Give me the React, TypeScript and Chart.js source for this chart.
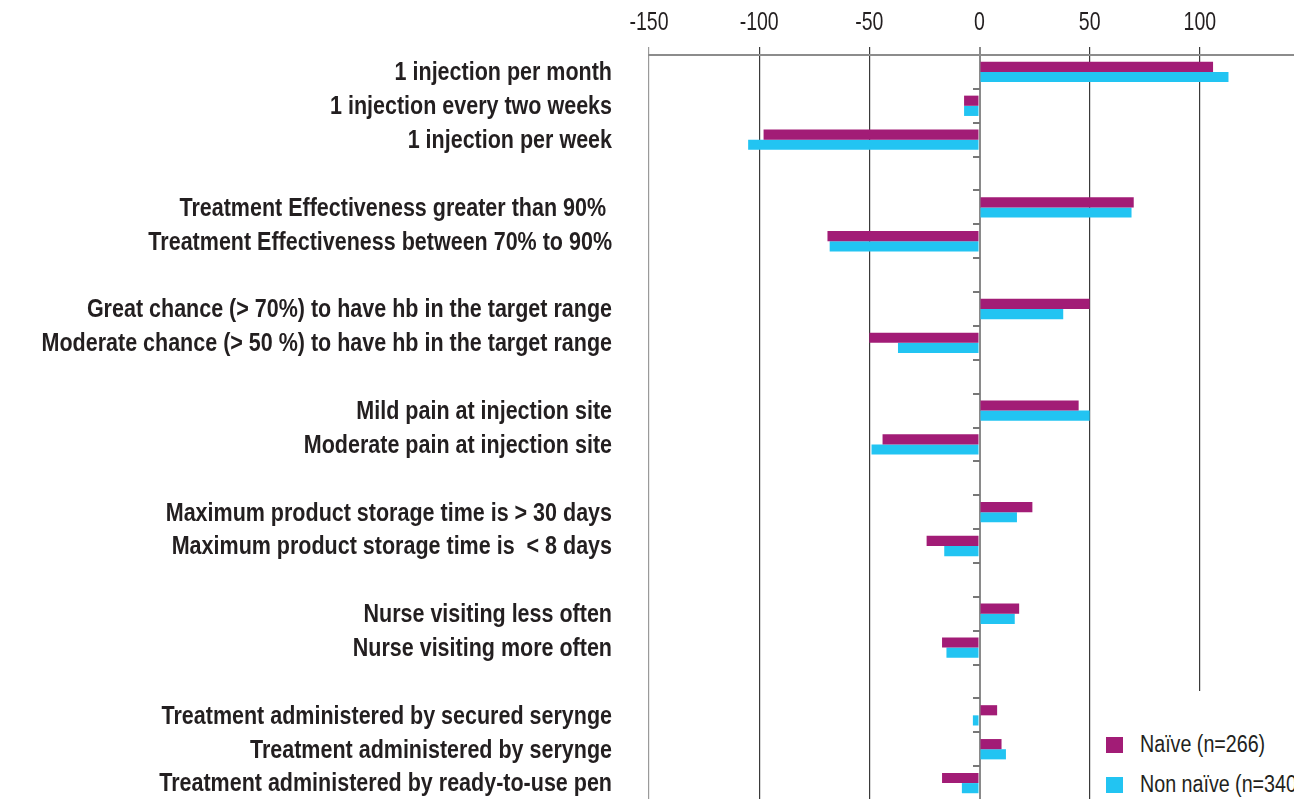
import React, { useEffect, useRef } from 'react';
import { Chart, registerables, CategoryScale, LinearScale } from 'chart.js';

Chart.register(...registerables);

const categories: string[] = [
  '1 injection per month',
  '1 injection every two weeks',
  '1 injection per week',
  '',
  'Treatment Effectiveness greater than 90% ',
  'Treatment Effectiveness between 70% to 90%',
  '',
  'Great chance (> 70%) to have hb in the target range',
  'Moderate chance (> 50 %) to have hb in the target range',
  '',
  'Mild pain at injection site',
  'Moderate pain at injection site',
  '',
  'Maximum product storage time is > 30 days',
  'Maximum product storage time is  < 8 days',
  '',
  'Nurse visiting less often',
  'Nurse visiting more often',
  '',
  'Treatment administered by secured serynge',
  'Treatment administered by serynge',
  'Treatment administered by ready-to-use pen',
];

const naive: (number | null)[] = [106, -7, -98, null, 70, -69, null, 50, -50, null, 45, -44, null, 24, -24, null, 18, -17, null, 8, 10, -17];
const nonNaive: (number | null)[] = [113, -7, -105, null, 69, -68, null, 38, -37, null, 50, -49, null, 17, -16, null, 16, -15, null, -3, 12, -8];

const seriesNames = ['Naïve (n=266)', 'Non naïve (n=340)'];
const seriesColors = ['#A21C76', '#22C4F2'];
const xTicks = { min: -150, max: 150, step: 50 };

const FONT = "'Liberation Sans', Arial, sans-serif";
const TEXT = '#231f20';

// draw tick labels horizontally condensed (the reference uses a condensed typeface)
function drawCondensedLabels(scale: any, chartArea: any, sx: number, dy: number) {
  const ctx: CanvasRenderingContext2D = scale.ctx;
  const items = scale.getLabelItems(chartArea);
  for (const item of items) {
    const o = item.options;
    ctx.save();
    ctx.translate(o.translation[0], o.translation[1] + dy);
    ctx.scale(sx, 1);
    ctx.font = item.font.string;
    ctx.fillStyle = o.color;
    ctx.textAlign = o.textAlign;
    ctx.textBaseline = o.textBaseline;
    ctx.fillText(String(item.label), 0, item.textOffset);
    ctx.restore();
  }
}

class CondensedCategory extends (CategoryScale as any) {
  static id = 'condensedCategory';
  static defaults = (CategoryScale as any).defaults;
  drawLabels(chartArea: any) {
    drawCondensedLabels(this, chartArea, 0.86, 1.5);
  }
}

class CondensedLinear extends (LinearScale as any) {
  static id = 'condensedLinear';
  static defaults = (LinearScale as any).defaults;
  drawLabels(chartArea: any) {
    drawCondensedLabels(this, chartArea, 0.78, 0);
  }
}

Chart.register(CondensedCategory as any, CondensedLinear as any);

export default function App() {
  const ref = useRef<HTMLCanvasElement | null>(null);

  useEffect(() => {
    if (!ref.current) return;
    const chart = new Chart(ref.current, {
      type: 'bar',
      data: {
        labels: categories,
        datasets: [
          { label: seriesNames[0], data: naive, backgroundColor: seriesColors[0], yAxisID: 'y' },
          { label: seriesNames[1], data: nonNaive, backgroundColor: seriesColors[1], yAxisID: 'y' },
        ],
      },
      options: {
        indexAxis: 'y',
        animation: false,
        responsive: false,
        maintainAspectRatio: false,
        datasets: { bar: { categoryPercentage: 0.6, barPercentage: 1.0 } },
        layout: { padding: { left: 0, right: 20, top: 0, bottom: 0 } },
        plugins: { legend: { display: false }, tooltip: { enabled: false } },
        scales: {
          x: {
            type: 'condensedLinear',
            position: 'top',
            min: xTicks.min,
            max: xTicks.max,
            z: 1,
            ticks: { stepSize: xTicks.step, color: TEXT, font: { family: FONT, size: 25 }, padding: 9 },
            grid: {
              drawTicks: true,
              tickLength: 8,
              color: (ctx: any) => {
                const v = ctx.tick ? ctx.tick.value : null;
                if (v === 0) return '#8a8a8a';
                if (v === -150) return '#9a9a9a';
                return '#3a3a3a';
              },
              lineWidth: (ctx: any) => (ctx.tick && ctx.tick.value === 0 ? 2 : 1.2),
            },
            border: { display: true, color: '#8c8c8c', width: 2 },
            afterFit: (s: any) => { s.height = 55; s.paddingLeft = 0; s.paddingRight = 0; },
          },
          y: {
            type: 'condensedCategory',
            position: 'left',
            offset: true,
            ticks: { color: TEXT, font: { family: FONT, size: 25, weight: 'bold' }, padding: 37, autoSkip: false },
            grid: { display: false, drawTicks: false },
            border: { display: false },
            afterFit: (s: any) => { s.width = 649; s.paddingTop = 0; s.paddingBottom = 0; },
          },
          y2: {
            type: 'category',
            labels: categories,
            position: { x: 0 },
            offset: true,
            ticks: { display: false },
            grid: { drawOnChartArea: false, offset: true, drawTicks: true, tickLength: 7, color: '#777', lineWidth: 2 },
            border: { display: false },
            afterFit: (s: any) => { s.paddingTop = 0; s.paddingBottom = 0; },
          },
        } as any,
      },
    });
    return () => chart.destroy();
  }, []);

  const legendText: React.CSSProperties = {
    position: 'absolute',
    left: 1140,
    fontFamily: FONT,
    fontSize: 23,
    lineHeight: '23px',
    color: TEXT,
    whiteSpace: 'nowrap',
    transform: 'scaleX(0.855)',
    transformOrigin: 'left center',
  };

  return (
    <div style={{ position: 'fixed', left: 0, top: 0, width: 1294, height: 799, overflow: 'hidden', background: '#fff' }}>
      <canvas ref={ref} width={1330} height={800} style={{ position: 'absolute', left: 0, top: 0, width: 1330, height: 800 }} />
      <div style={{ position: 'absolute', left: 1096, top: 691, width: 300, height: 120, background: '#fff' }} />
      <div style={{ position: 'absolute', left: 1106, top: 737, width: 17, height: 16, background: seriesColors[0] }} />
      <div style={{ ...legendText, top: 732.5 }}>{seriesNames[0]}</div>
      <div style={{ position: 'absolute', left: 1106, top: 777, width: 17, height: 16, background: seriesColors[1] }} />
      <div style={{ ...legendText, top: 772.5 }}>{seriesNames[1]}</div>
    </div>
  );
}
